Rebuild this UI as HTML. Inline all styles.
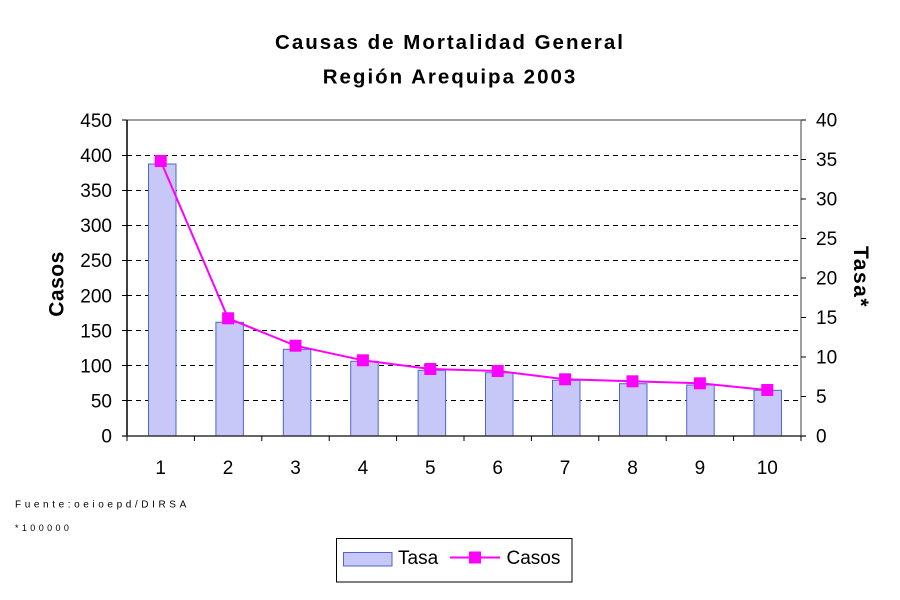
<!DOCTYPE html>
<html><head><meta charset="utf-8"><style>
html,body{margin:0;padding:0;background:#fff;width:900px;height:600px;overflow:hidden}
svg{display:block}
text{font-family:"Liberation Sans",Arial,sans-serif;fill:#000}
</style></head><body>
<svg width="900" height="600" viewBox="0 0 900 600" xmlns="http://www.w3.org/2000/svg">
<rect width="900" height="600" fill="#fff"/>
<!-- titles -->
<text x="450" y="49" font-size="20.5" font-weight="bold" letter-spacing="2" text-anchor="middle">Causas de Mortalidad General</text>
<text x="450" y="83.5" font-size="20.5" font-weight="bold" letter-spacing="2" text-anchor="middle">Región Arequipa 2003</text>
<!-- gridlines -->
<g stroke="#000" stroke-width="1" stroke-dasharray="5,4">
<line x1="127" y1="155.5" x2="801" y2="155.5"/>
<line x1="127" y1="190.5" x2="801" y2="190.5"/>
<line x1="127" y1="225.5" x2="801" y2="225.5"/>
<line x1="127" y1="260.5" x2="801" y2="260.5"/>
<line x1="127" y1="295.5" x2="801" y2="295.5"/>
<line x1="127" y1="330.5" x2="801" y2="330.5"/>
<line x1="127" y1="365.5" x2="801" y2="365.5"/>
<line x1="127" y1="400.5" x2="801" y2="400.5"/>
</g>
<line x1="127" y1="120" x2="801" y2="120" stroke="#808080" stroke-width="1.5"/>
<line x1="801" y1="120" x2="801" y2="436" stroke="#808080" stroke-width="1.5"/>
<!-- bars -->
<g fill="#c8c8f8" stroke="#4a68cc" stroke-width="1">
<rect x="148.5" y="164" width="27.5" height="272"/>
<rect x="215.9" y="322.3" width="27.5" height="113.7"/>
<rect x="283.3" y="349.3" width="27.5" height="86.7"/>
<rect x="350.7" y="361.3" width="27.5" height="74.7"/>
<rect x="418.1" y="370.3" width="27.5" height="65.7"/>
<rect x="485.5" y="372.7" width="27.5" height="63.3"/>
<rect x="552.5" y="380.3" width="27.5" height="55.7"/>
<rect x="619.5" y="383.7" width="27.5" height="52.3"/>
<rect x="686.7" y="385" width="27.5" height="51"/>
<rect x="754" y="390.3" width="27.5" height="45.7"/>
</g>
<!-- axes -->
<line x1="127" y1="120" x2="127" y2="436.5" stroke="#000" stroke-width="1.5"/>
<line x1="122" y1="436" x2="806" y2="436" stroke="#333" stroke-width="1.5"/>
<g stroke="#000" stroke-width="1">
<line x1="122" y1="120" x2="127" y2="120"/><line x1="122" y1="155.5" x2="127" y2="155.5"/><line x1="122" y1="190.5" x2="127" y2="190.5"/><line x1="122" y1="225.5" x2="127" y2="225.5"/><line x1="122" y1="260.5" x2="127" y2="260.5"/><line x1="122" y1="295.5" x2="127" y2="295.5"/><line x1="122" y1="330.5" x2="127" y2="330.5"/><line x1="122" y1="365.5" x2="127" y2="365.5"/><line x1="122" y1="400.5" x2="127" y2="400.5"/>
<line x1="801" y1="120" x2="806" y2="120"/><line x1="801" y1="159.5" x2="806" y2="159.5"/><line x1="801" y1="199" x2="806" y2="199"/><line x1="801" y1="238.5" x2="806" y2="238.5"/><line x1="801" y1="278" x2="806" y2="278"/><line x1="801" y1="317.5" x2="806" y2="317.5"/><line x1="801" y1="357" x2="806" y2="357"/><line x1="801" y1="396.5" x2="806" y2="396.5"/>
<line x1="127" y1="436" x2="127" y2="441"/><line x1="194.4" y1="436" x2="194.4" y2="441"/><line x1="261.8" y1="436" x2="261.8" y2="441"/><line x1="329.2" y1="436" x2="329.2" y2="441"/><line x1="396.6" y1="436" x2="396.6" y2="441"/><line x1="464" y1="436" x2="464" y2="441"/><line x1="531.4" y1="436" x2="531.4" y2="441"/><line x1="598.8" y1="436" x2="598.8" y2="441"/><line x1="666.2" y1="436" x2="666.2" y2="441"/><line x1="733.6" y1="436" x2="733.6" y2="441"/><line x1="801" y1="436" x2="801" y2="441"/>
</g>
<!-- line series -->
<polyline fill="none" stroke="#ff00ff" stroke-width="2" points="160.7,161 228.1,318.3 295.5,345.7 362.9,360.3 430.3,369 497.7,371 565.1,379.3 632.5,381.3 699.9,383.3 767.3,390"/>
<g fill="#ff00ff">
<rect x="154.7" y="155" width="12" height="12"/>
<rect x="222.1" y="312.3" width="12" height="12"/>
<rect x="289.5" y="339.7" width="12" height="12"/>
<rect x="356.9" y="354.3" width="12" height="12"/>
<rect x="424.3" y="363" width="12" height="12"/>
<rect x="491.7" y="365" width="12" height="12"/>
<rect x="559.1" y="373.3" width="12" height="12"/>
<rect x="626.5" y="375.3" width="12" height="12"/>
<rect x="693.9" y="377.3" width="12" height="12"/>
<rect x="761.3" y="384" width="12" height="12"/>
</g>
<!-- left tick labels -->
<g font-size="19" text-anchor="end">
<text x="112" y="126.8">450</text>
<text x="112" y="161.9">400</text>
<text x="112" y="197">350</text>
<text x="112" y="232.1">300</text>
<text x="112" y="267.2">250</text>
<text x="112" y="302.3">200</text>
<text x="112" y="337.4">150</text>
<text x="112" y="372.5">100</text>
<text x="112" y="407.6">50</text>
<text x="112" y="442.7">0</text>
</g>
<!-- right tick labels -->
<g font-size="19">
<text x="816" y="126.3">40</text>
<text x="816" y="165.8">35</text>
<text x="816" y="205.3">30</text>
<text x="816" y="244.8">25</text>
<text x="816" y="284.3">20</text>
<text x="816" y="323.8">15</text>
<text x="816" y="363.3">10</text>
<text x="816" y="402.8">5</text>
<text x="816" y="442.3">0</text>
</g>
<!-- x labels -->
<g font-size="19" text-anchor="middle">
<text x="160.7" y="473.8">1</text>
<text x="228.1" y="473.8">2</text>
<text x="295.5" y="473.8">3</text>
<text x="362.9" y="473.8">4</text>
<text x="430.3" y="473.8">5</text>
<text x="497.7" y="473.8">6</text>
<text x="565.1" y="473.8">7</text>
<text x="632.5" y="473.8">8</text>
<text x="699.9" y="473.8">9</text>
<text x="767.3" y="473.8">10</text>
</g>
<!-- axis titles -->
<text transform="translate(63.3,284) rotate(-90)" font-size="21" font-weight="bold" letter-spacing="0.5" text-anchor="middle">Casos</text>
<text transform="translate(854,277) rotate(90)" font-size="21" font-weight="bold" letter-spacing="1.5" text-anchor="middle">Tasa*</text>
<!-- footer -->
<text x="15" y="507.3" font-size="10" letter-spacing="3.6">Fuente:oeioepd/DIRSA</text>
<text x="15" y="531" font-size="9" letter-spacing="3.4">*100000</text>
<!-- legend -->
<rect x="336.5" y="538.5" width="235.5" height="43.5" fill="#fff" stroke="#000" stroke-width="1"/>
<rect x="343.5" y="552.5" width="48.5" height="13.5" fill="#c8c8f8" stroke="#4a68cc" stroke-width="1"/>
<text x="398" y="564" font-size="19">Tasa</text>
<line x1="450" y1="557.5" x2="500" y2="557.5" stroke="#ff00ff" stroke-width="2"/>
<rect x="469" y="551.5" width="12" height="12" fill="#ff00ff"/>
<text x="506.5" y="564" font-size="19">Casos</text>
</svg>
</body></html>
